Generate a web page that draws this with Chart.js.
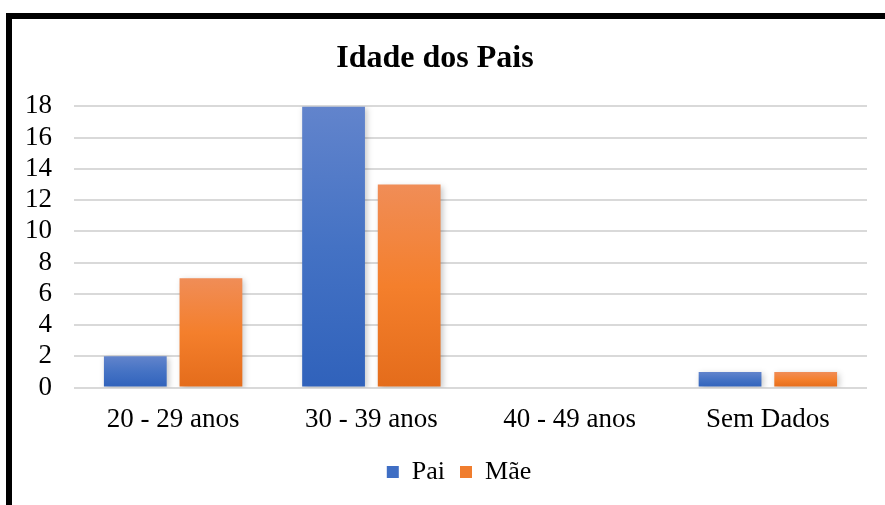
<!DOCTYPE html>
<html lang="pt">
<head>
  <meta charset="UTF-8">
  <title>Idade dos Pais</title>
  <style>
    body { margin: 0; background: #fff; }
    #wrap { position: relative; width: 885px; height: 505px; overflow: hidden; }
    #frame {
      position: absolute; left: 6px; top: 13px; width: 900px; height: 520px;
      border-left: 6px solid #000; border-top: 6px solid #000;
    }
    #myChart { position: absolute; left: 0; top: 0; }
  </style>
</head>
<body>
  <div id="wrap">
    <div id="frame"></div>
    <canvas id="myChart" width="885" height="505"></canvas>
  </div>

  <script src="https://cdn.jsdelivr.net/npm/chart.js"></script>
  <script>
    const categories = ['20 - 29 anos', '30 - 39 anos', '40 - 49 anos', 'Sem Dados'];
    const pai = [2, 18, 0, 1];
    const mae = [7, 13, 0, 1];
    const yTicks = [0, 2, 4, 6, 8, 10, 12, 14, 16, 18];

    const serif = '"Liberation Serif", "Times New Roman", serif';
    Chart.defaults.font.family = serif;
    Chart.defaults.color = '#000';

    // gradient per bar, lighter on top like the office chart
    function barGradient(top, mid, bottom) {
      return function (context) {
        const chart = context.chart;
        const y = chart.scales && chart.scales.y;
        if (!y || context.type !== 'data' || y.top === undefined) return mid;
        const v = context.raw || 0;
        const y0 = y.getPixelForValue(0);
        const y1 = y.getPixelForValue(v);
        if (!isFinite(y0) || !isFinite(y1) || y0 === y1) return mid;
        const g = chart.ctx.createLinearGradient(0, y1, 0, y0);
        g.addColorStop(0, top);
        g.addColorStop(0.5, mid);
        g.addColorStop(1, bottom);
        return g;
      };
    }

    const shadowPlugin = {
      id: 'barShadow',
      beforeDatasetsDraw(chart) {
        const c = chart.ctx;
        c.save();
        c.shadowColor = 'rgba(0,0,0,0.22)';
        c.shadowBlur = 6;
        c.shadowOffsetX = 2;
        c.shadowOffsetY = 2;
      },
      afterDatasetsDraw(chart) {
        chart.ctx.restore();
      }
    };

    // legend in the original sits a bit right of the centre
    const legendShift = {
      id: 'legendShift',
      afterLayout(chart) {
        if (chart.legend) {
          chart.legend.left += 24;
          chart.legend.right += 24;
        }
      }
    };

    const ctx = document.getElementById('myChart');

    new Chart(ctx, {
      type: 'bar',
      data: {
        labels: categories,
        datasets: [{
          label: 'Pai',
          data: pai,
          backgroundColor: barGradient('#6284cc', '#4472c4', '#3062bb'),
          categoryPercentage: 0.763,
          barPercentage: 0.83
        }, {
          label: 'Mãe',
          data: mae,
          backgroundColor: barGradient('#f08d57', '#f47f2c', '#e46c1b'),
          categoryPercentage: 0.763,
          barPercentage: 0.83
        }]
      },
      options: {
        responsive: false,
        animation: false,
        layout: { padding: { left: 3, right: 18, top: 10, bottom: 10 } },
        plugins: {
          title: {
            display: true,
            text: 'Idade dos Pais',
            color: '#000',
            font: { family: serif, size: 32, weight: 'bold' },
            padding: { top: 30, bottom: 28 }
          },
          legend: {
            position: 'bottom',
            labels: {
              color: '#000',
              boxWidth: 12,
              boxHeight: 12,
              padding: 15,
              font: { family: serif, size: 26 },
              generateLabels(chart) {
                const cols = ['#3f6ec4', '#f07d2e'];
                return chart.data.datasets.map((ds, i) => ({
                  text: ds.label,
                  fillStyle: cols[i],
                  strokeStyle: cols[i],
                  lineWidth: 0,
                  datasetIndex: i,
                  fontColor: '#000'
                }));
              }
            }
          },
          tooltip: { enabled: false }
        },
        scales: {
          x: {
            grid: { display: false },
            border: { display: false },
            ticks: {
              color: '#000',
              padding: 8,
              font: { family: serif, size: 27 }
            }
          },
          y: {
            min: 0,
            max: 18,
            afterBuildTicks(axis) {
              axis.ticks = yTicks.map(v => ({ value: v }));
            },
            grid: { color: '#d9d9d9', lineWidth: 2, drawTicks: false },
            border: { display: false },
            ticks: {
              color: '#000',
              padding: 22,
              autoSkip: false,
              font: { family: serif, size: 27 }
            }
          }
        }
      },
      plugins: [shadowPlugin, legendShift]
    });
  </script>
</body>
</html>
